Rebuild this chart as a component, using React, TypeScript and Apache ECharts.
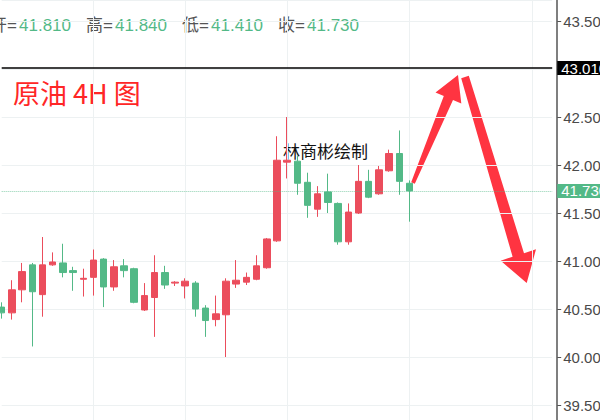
import * as echarts from 'echarts';
import { useEffect, useRef } from 'react';

// 4H candles, oldest first
const opens = [
  40.52, 40.46, 40.7, 40.96, 40.65, 40.96, 40.98, 40.9, 40.81, 40.83,
  41.02, 40.73, 40.95, 40.92, 40.49, 40.62, 40.88, 40.77, 40.74, 40.77,
  40.51, 40.39, 40.44, 40.76, 40.78, 40.81, 40.93, 41.21, 42.03, 42.04,
  41.82, 41.54, 41.72, 41.6, 41.2, 41.5, 41.83, 41.7, 41.94, 42.12, 41.81,
];
const highs = [
  40.57, 40.8, 40.98, 40.98, 41.25, 41.09, 41.18, 40.94, 40.92, 41.12,
  41.03, 41.01, 41.02, 40.93, 40.77, 41.06, 40.95, 40.79, 40.82, 40.79,
  40.54, 40.64, 40.82, 41.01, 40.88, 41.06, 41.24, 42.3, 42.5, 42.1,
  41.92, 41.78, 41.91, 41.61, 41.6, 42.0, 41.95, 41.99, 42.16, 42.36, 41.84,
];
const lows = [
  40.4, 40.39, 40.57, 40.11, 40.42, 40.95, 40.83, 40.69, 40.63, 40.64,
  40.52, 40.69, 40.83, 40.56, 40.48, 40.21, 40.71, 40.74, 40.61, 40.42,
  40.21, 40.32, 40.0, 40.72, 40.75, 40.8, 40.92, 41.2, 41.86, 41.69,
  41.45, 41.46, 41.5, 41.17, 41.17, 41.49, 41.655, 41.69, 41.93, 41.69, 41.41,
];
const closes = [
  40.46, 40.7, 40.89, 40.68, 40.96, 40.99, 40.88, 40.88, 40.82, 41.01,
  40.73, 40.94, 40.9, 40.57, 40.64, 40.88, 40.75, 40.78, 40.79, 40.5,
  40.38, 40.45, 40.79, 40.8, 40.83, 40.95, 41.23, 42.05, 42.05, 41.81,
  41.58, 41.7, 41.61, 41.2, 41.51, 41.83, 41.665, 41.95, 42.12, 41.83, 41.73,
];

// empty slots to the right of the last candle
const futureSlots = 14;
const categories = [
  ...opens.map((_, i) => `K${i + 1}`),
  ...Array.from({ length: futureSlots }, (_, i) => `F${i + 1}`),
];
// time grid lines fall on these bars
const timeGridBars = [9, 18, 28, 40, 52];

const resistance = 43.01;
const last = opens.length - 1;
const headerLabels = ['开', '高', '低', '收'];
const headerValues = [opens[last], highs[last], lows[last], closes[last]];

const UP = '#eb4d5c';
const DOWN = '#53b987';
const ARROW = '#ff3441';
const LATIN = '"Liberation Sans", Arial, "Noto Sans CJK SC", sans-serif';
const CJK = '"Noto Sans CJK SC", "Liberation Sans", sans-serif';

const txt = (text: string, x: number, y: number, fill: string, font: string) => ({
  type: 'text',
  x,
  y,
  silent: true,
  style: { text, fill, font, textAlign: 'left', textVerticalAlign: 'middle', align: 'left', verticalAlign: 'middle' },
});

const App = () => {
  const chartRef = useRef<HTMLDivElement>(null);

  useEffect(() => {
    if (!chartRef.current) return;
    const chart = echarts.init(chartRef.current, undefined, { renderer: 'svg' });

    const headerX = [-10, 86, 182, 278];
    const header: any[] = [];
    headerLabels.forEach((l, i) => {
      header.push(txt(`${l}=`, headerX[i], 25, '#555555', `17px ${LATIN}`));
      header.push(txt(headerValues[i].toFixed(3), headerX[i] + 29, 25, DOWN, `17px ${LATIN}`));
    });

    const option: any = {
      animation: false,
      backgroundColor: '#ffffff',
      grid: { left: 1.7, right: 47.8, top: 0, bottom: 0, containLabel: false, outerBoundsMode: 'none' },
      xAxis: {
        type: 'category',
        data: categories,
        boundaryGap: false,
        axisLine: { show: false },
        axisTick: { show: false },
        axisLabel: { show: false },
        splitLine: {
          show: true,
          interval: (index: number) => timeGridBars.includes(index),
          lineStyle: { color: '#edf1f2', width: 1 },
        },
      },
      yAxis: {
        type: 'value',
        position: 'right',
        offset: 5,
        min: 39.344,
        max: 43.719,
        splitNumber: 8,
        axisLine: { show: true, lineStyle: { color: '#555555', width: 1.5 } },
        axisTick: { show: true, length: 4, lineStyle: { color: '#555555' } },
        axisLabel: {
          showMinLabel: false,
          showMaxLabel: false,
          margin: 6,
          color: '#4a4a4a',
          fontSize: 15,
          fontFamily: LATIN,
          // the 43.000 label sits under the resistance tag
          formatter: (v: number) => (Math.abs(v - 43) < 1e-6 ? '' : v.toFixed(3)),
        },
        splitLine: { show: true, lineStyle: { color: '#edf1f2', width: 1 } },
      },
      series: [
        {
          type: 'candlestick',
          clip: false,
          barWidth: 7,
          data: opens.map((o, i) => [o, closes[i], lows[i], highs[i]]),
          itemStyle: {
            color: UP,
            color0: DOWN,
            borderColor: UP,
            borderColor0: DOWN,
            borderColorDoji: UP,
            borderWidth: 1,
          },
          markLine: {
            silent: true,
            symbol: ['none', 'none'],
            data: [
              {
                yAxis: resistance,
                lineStyle: { color: '#000000', width: 1.5, type: 'solid' },
                label: {
                  position: 'end',
                  distance: 5,
                  formatter: resistance.toFixed(3),
                  color: '#ffffff',
                  backgroundColor: '#000000',
                  padding: [0, 4],
                  fontSize: 15,
                  lineHeight: 14,
                  fontFamily: LATIN,
                },
              },
              {
                yAxis: closes[last],
                lineStyle: { color: 'rgba(83,185,135,0.65)', width: 1, type: 'dotted' },
                label: {
                  position: 'end',
                  distance: 5,
                  formatter: closes[last].toFixed(3),
                  color: '#ffffff',
                  backgroundColor: DOWN,
                  padding: [0, 4],
                  fontSize: 15,
                  lineHeight: 14,
                  fontFamily: LATIN,
                },
              },
            ],
          },
        },
      ],
      graphic: [
        ...header,
        txt('原油 4H 图', 13, 92, '#ff2626', `27px ${CJK}`),
        txt('林商彬绘制', 283, 150, '#111111', `17px ${CJK}`),
        {
          type: 'polygon',
          silent: true,
          shape: {
            points: [
              [411.2, 182.2], [443.8, 96.1], [435.5, 92.6], [458, 75],
              [461.3, 103.4], [453, 99.9], [414.8, 183.8],
            ],
          },
          style: { fill: ARROW },
        },
        {
          type: 'polygon',
          silent: true,
          shape: {
            points: [
              [461.2, 78.2], [512.6, 256.7], [500.7, 260.7], [526.7, 283],
              [536, 249.3], [524, 253.3], [468.8, 75.8],
            ],
          },
          style: { fill: ARROW },
        },
      ],
    };

    chart.setOption(option);
    return () => {
      chart.dispose();
    };
  }, []);

  return (
    <div
      ref={chartRef}
      style={{ position: 'absolute', left: 0, top: 0, width: 600, height: 420 }}
    />
  );
};

export default App;
